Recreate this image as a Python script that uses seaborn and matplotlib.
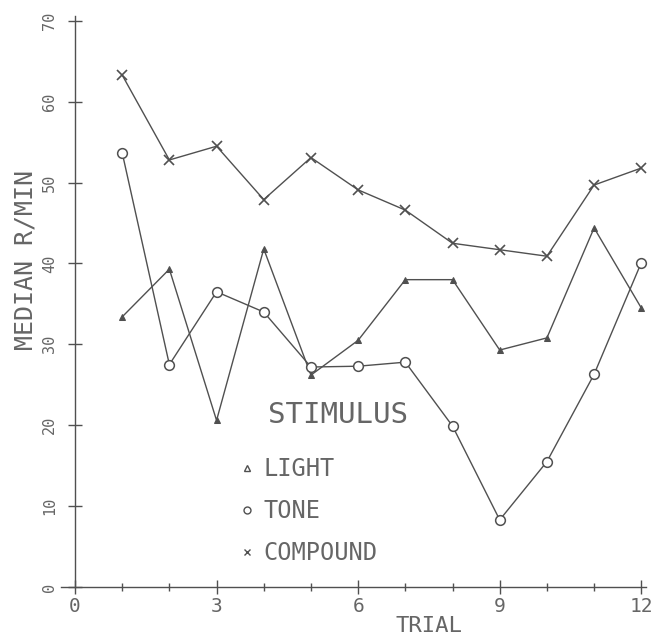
import matplotlib
matplotlib.use('Agg')
import matplotlib.pyplot as plt
from matplotlib.lines import Line2D
import pandas as pd
import seaborn as sns

# values
trials = list(range(1, 13))
light = [33.4, 39.3, 20.6, 41.8, 26.2, 30.5, 38.0, 38.0, 29.3, 30.8, 44.4, 34.5]
tone = [53.7, 27.5, 36.5, 34.0, 27.2, 27.3, 27.8, 19.9, 8.3, 15.5, 26.3, 40.1]
compound = [63.3, 52.8, 54.5, 47.9, 53.1, 49.1, 46.6, 42.5, 41.7, 40.9, 49.7, 51.8]
x_major = [0, 3, 6, 9, 12]
x_minor = list(range(0, 13))
y_ticks = [0, 10, 20, 30, 40, 50, 60, 70]
y_labels = ['0', '10', '20', '30', '40', '50', '60', '70']

sns.set_style('white')
plt.rcParams['font.family'] = ['DejaVu Sans Mono', 'DejaVu Sans']

ink = '#505050'
txt = '#666666'

df = pd.concat([
    pd.DataFrame({'trial': trials, 'rate': light, 'stimulus': 'LIGHT'}),
    pd.DataFrame({'trial': trials, 'rate': tone, 'stimulus': 'TONE'}),
    pd.DataFrame({'trial': trials, 'rate': compound, 'stimulus': 'COMPOUND'}),
], ignore_index=True)

fig = plt.figure(figsize=(6.54, 6.41), dpi=100)
ax = fig.add_axes([0.093, 0.0754, 0.902, 0.911])

styles = {
    'LIGHT': dict(marker='^', markersize=5, markerfacecolor=ink, markeredgecolor=ink),
    'TONE': dict(marker='o', markersize=7, markerfacecolor='white', markeredgecolor=ink, markeredgewidth=1.1),
    'COMPOUND': dict(marker='x', markersize=7, markeredgecolor=ink, markeredgewidth=1.2),
}
for name in ['LIGHT', 'TONE', 'COMPOUND']:
    sns.lineplot(data=df[df['stimulus'] == name], x='trial', y='rate', ax=ax,
                 color=ink, linewidth=1.0, legend=False, **styles[name])

ax.set_xlim(-0.3, 12.2)
ax.set_ylim(-0.7, 71.5)
for s in ['top', 'right']:
    ax.spines[s].set_visible(False)
ax.spines['left'].set_position(('data', 0))
ax.spines['bottom'].set_position(('data', 0))
ax.spines['left'].set_bounds(0, 70.6)
ax.spines['bottom'].set_bounds(-0.3, 12.1)
for s in ['left', 'bottom']:
    ax.spines[s].set_color(ink)
    ax.spines[s].set_linewidth(1.0)

ax.set_xticks(x_major)
ax.set_xticks(x_minor, minor=True)
ax.set_xticklabels([str(v) for v in x_major], fontsize=14, color=txt)
ax.set_yticks(y_ticks)
ax.set_yticklabels(y_labels, fontsize=11, color=txt, rotation=90, va='center')
ax.tick_params(axis='x', which='both', bottom=True)
ax.tick_params(axis='y', which='major', left=True)
ax.tick_params(axis='x', which='major', direction='inout', length=10, width=1.0, color=ink, pad=2)
ax.tick_params(axis='x', which='minor', direction='inout', length=6, width=1.0, color=ink)
ax.tick_params(axis='y', which='major', direction='inout', length=10, width=1.0, color=ink, pad=8)

ax.set_xlabel('TRIAL', fontsize=16, color=txt)
ax.xaxis.set_label_coords(0.624, -0.04)
ax.set_ylabel('MEDIAN R/MIN', fontsize=18, color=txt)
ax.yaxis.set_label_coords(-0.04, 0.57)

ax.text(5.57, 21.3, 'STIMULUS', fontsize=21, color=txt, ha='center', va='center')

handles = [
    Line2D([], [], ls='none', marker='^', ms=5, mfc='none', mec=ink, mew=1.0),
    Line2D([], [], ls='none', marker='o', ms=5, mfc='none', mec=ink, mew=1.0),
    Line2D([], [], ls='none', marker='x', ms=5, mec=ink, mew=1.0),
]
leg = ax.legend(handles, ['LIGHT', 'TONE', 'COMPOUND'], loc='upper left',
                bbox_to_anchor=(0.367, 0.287), bbox_transform=fig.transFigure,
                frameon=False, fontsize=17, handlelength=0.6, handletextpad=0.4,
                borderpad=0, borderaxespad=0, labelspacing=0.77)
for t in leg.get_texts():
    t.set_color(txt)

fig.savefig('out.png', dpi=100)
